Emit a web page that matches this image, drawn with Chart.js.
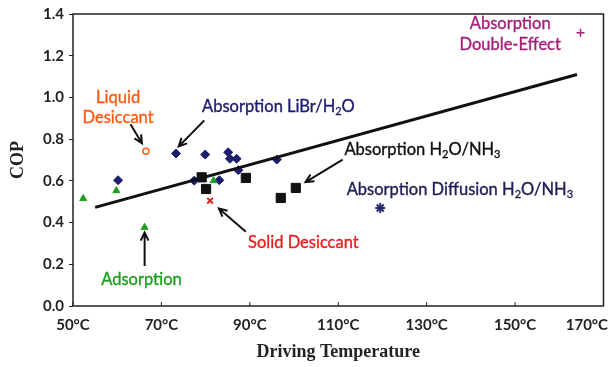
<!DOCTYPE html>
<html>
<head>
<meta charset="utf-8">
<script src="https://cdn.jsdelivr.net/npm/chart.js@4/dist/chart.umd.min.js"></script>
<style>
  html, body { margin: 0; padding: 0; background: #fff; }
  #wrap { width: 611px; height: 367px; }
</style>
</head>
<body>
<div id="wrap"><canvas id="copChart" width="611" height="367"></canvas></div>
<script>
// data (driving temperature in degC, COP)
const xTicks = [50, 70, 90, 110, 130, 150, 170];
const yTicks = [0, 0.2, 0.4, 0.6, 0.8, 1.0, 1.2, 1.4];

const adsorptionT = [52.3, 59.8, 66.2, 81.8];
const adsorptionCOP = [0.515, 0.553, 0.377, 0.601];

const liquidT = [66.5];
const liquidCOP = [0.742];

const librT = [60.2, 73.3, 79.9, 85.1, 85.5, 87.0, 87.4, 77.4, 83.1, 96.1];
const librCOP = [0.603, 0.731, 0.726, 0.737, 0.706, 0.706, 0.651, 0.601, 0.603, 0.702];

const nh3T = [79.1, 80.1, 89.1, 100.4, 97.0];
const nh3COP = [0.617, 0.561, 0.614, 0.566, 0.518];

const solidT = [81.0];
const solidCOP = [0.505];

const diffusionT = [119.5];
const diffusionCOP = [0.47];

const doubleT = [164.8];
const doubleCOP = [1.31];

const trendT = [55, 164];
const trendCOP = [0.473, 1.11];

function pts(xs, ys) {
  return xs.map((x, i) => ({ x: x, y: ys[i] }));
}

// text labels, positions given in data units; "_" marks a subscript char
const labels = [
  { text: "Liquid", t: 60.2, c: 1.00, color: "#ff5a14", align: "center" },
  { text: "Desiccant", t: 60.2, c: 0.905, color: "#ff5a14", align: "center" },
  { text: "Absorption LiBr/H_2O", t: 79.2, c: 0.957, color: "#1c1c70", align: "left" },
  { text: "Absorption H_2O/NH_3", t: 111.4, c: 0.75, color: "#111", align: "left" },
  { text: "Absorption Diffusion H_2O/NH_3", t: 111.9, c: 0.558, color: "#20205a", align: "left" },
  { text: "Absorption", t: 148.9, c: 1.352, color: "#a4207a", align: "center" },
  { text: "Double-Effect", t: 148.9, c: 1.251, color: "#a4207a", align: "center" },
  { text: "Solid Desiccant", t: 89.6, c: 0.303, color: "#e82020", align: "left" },
  { text: "Adsorption", t: 65.5, c: 0.125, color: "#1ea01e", align: "center" }
];

const arrows = [
  { from: [63.0, 0.871], to: [65.6, 0.78] },
  { from: [79.7, 0.89], to: [73.9, 0.765] },
  { from: [111.0, 0.702], to: [102.6, 0.594] },
  { from: [89.1, 0.356], to: [83.0, 0.468] },
  { from: [66.2, 0.192], to: [66.2, 0.352] }
];

const LABEL_FONT = "Lato, 'Open Sans', sans-serif";

function drawRich(ctx, str, x, y, align, color) {
  // split into normal/subscript parts
  const parts = [];
  for (let i = 0; i < str.length; i++) {
    if (str[i] === "_") { parts.push({ s: str[i + 1], sub: true }); i++; }
    else if (parts.length && !parts[parts.length - 1].sub) parts[parts.length - 1].s += str[i];
    else parts.push({ s: str[i], sub: false });
  }
  const big = "16.5px " + LABEL_FONT, small = "11px " + LABEL_FONT;
  let w = 0;
  parts.forEach(p => { ctx.font = p.sub ? small : big; p.w = ctx.measureText(p.s).width; w += p.w; });
  let cx = align === "center" ? x - w / 2 : x;
  ctx.fillStyle = color;
  ctx.strokeStyle = color;
  ctx.lineWidth = 0.35;
  ctx.textAlign = "left";
  ctx.textBaseline = "middle";
  parts.forEach(p => {
    ctx.font = p.sub ? small : big;
    const yy = p.sub ? y + 5 : y;
    ctx.fillText(p.s, cx, yy);
    ctx.strokeText(p.s, cx, yy);
    cx += p.w;
  });
}

const decorations = {
  id: "decorations",
  afterDraw(chart) {
    const ctx = chart.ctx;
    const xs = chart.scales.x, ys = chart.scales.y;
    const a = chart.chartArea;
    ctx.save();

    // frame
    ctx.strokeStyle = "#222";
    ctx.lineWidth = 1.5;
    ctx.strokeRect(a.left, a.top, a.right - a.left, a.bottom - a.top);

    // x ticks (inside) and labels
    ctx.lineWidth = 1;
    ctx.font = "bold 15px Lato, sans-serif";
    ctx.fillStyle = "#222";
    ctx.textBaseline = "middle";
    xTicks.forEach(t => {
      const px = xs.getPixelForValue(t);
      ctx.beginPath();
      ctx.moveTo(px, a.bottom);
      ctx.lineTo(px, a.bottom - 4);
      ctx.stroke();
      const txt = t + "\u00b0C";
      const w = ctx.measureText(txt).width;
      let lx = px - w / 2;
      if (lx + w > chart.width - 3) lx = chart.width - 3 - w;
      ctx.textAlign = "left";
      ctx.fillText(txt, lx, a.bottom + 19);
    });

    // arrows
    ctx.strokeStyle = "#111";
    ctx.lineWidth = 2;
    arrows.forEach(ar => {
      const x1 = xs.getPixelForValue(ar.from[0]), y1 = ys.getPixelForValue(ar.from[1]);
      const x2 = xs.getPixelForValue(ar.to[0]), y2 = ys.getPixelForValue(ar.to[1]);
      const ang = Math.atan2(y2 - y1, x2 - x1);
      ctx.beginPath();
      ctx.moveTo(x1, y1);
      ctx.lineTo(x2, y2);
      ctx.moveTo(x2 - 9 * Math.cos(ang - 0.45), y2 - 9 * Math.sin(ang - 0.45));
      ctx.lineTo(x2, y2);
      ctx.lineTo(x2 - 9 * Math.cos(ang + 0.45), y2 - 9 * Math.sin(ang + 0.45));
      ctx.stroke();
    });

    // text labels
    labels.forEach(l => {
      drawRich(ctx, l.text, xs.getPixelForValue(l.t), ys.getPixelForValue(l.c), l.align, l.color);
    });
    ctx.restore();
  }
};

new Chart(document.getElementById("copChart"), {
  type: "scatter",
  data: {
    datasets: [
      {
        label: "Trend",
        data: pts(trendT, trendCOP),
        showLine: true,
        borderColor: "#111",
        borderWidth: 3,
        pointRadius: 0
      },
      {
        label: "Adsorption",
        data: pts(adsorptionT, adsorptionCOP),
        pointStyle: "triangle",
        pointRadius: 4,
        backgroundColor: "#1ea01e",
        borderColor: "#1ea01e"
      },
      {
        label: "Liquid Desiccant",
        data: pts(liquidT, liquidCOP),
        pointStyle: "circle",
        pointRadius: 3,
        borderWidth: 1.5,
        backgroundColor: "#fff",
        borderColor: "#ff5a14"
      },
      {
        label: "Absorption LiBr/H2O",
        data: pts(librT, librCOP),
        pointStyle: "rectRot",
        pointRadius: 4.5,
        backgroundColor: "#1c1c70",
        borderColor: "#1c1c70"
      },
      {
        label: "Absorption H2O/NH3",
        data: pts(nh3T, nh3COP),
        pointStyle: "rect",
        pointRadius: 6.5,
        backgroundColor: "#111",
        borderColor: "#111"
      },
      {
        label: "Solid Desiccant",
        data: pts(solidT, solidCOP),
        pointStyle: "crossRot",
        pointRadius: 4,
        borderWidth: 2,
        borderColor: "#e82020"
      },
      {
        label: "Absorption Diffusion H2O/NH3",
        data: pts(diffusionT, diffusionCOP),
        pointStyle: "star",
        pointRadius: 5,
        borderWidth: 2,
        borderColor: "#2a2a6a"
      },
      {
        label: "Absorption Double-Effect",
        data: pts(doubleT, doubleCOP),
        pointStyle: "cross",
        pointRadius: 4,
        borderWidth: 1.5,
        borderColor: "#a4207a"
      }
    ]
  },
  options: {
    responsive: false,
    animation: false,
    layout: { padding: { top: 13, right: 5, left: 0, bottom: 0 } },
    plugins: { legend: { display: false }, tooltip: { enabled: false } },
    scales: {
      x: {
        type: "linear",
        min: 50,
        max: 170,
        afterBuildTicks: s => { s.ticks = xTicks.map(v => ({ value: v })); },
        afterFit: s => { s.height = 61; },
        ticks: { display: false },
        grid: { display: false, drawTicks: false },
        border: { display: false },
        title: {
          display: true,
          text: "Driving Temperature",
          font: { family: "'Liberation Serif', serif", size: 18, weight: "bold" },
          color: "#222",
          padding: { top: 0, bottom: 4 }
        }
      },
      y: {
        min: 0,
        max: 1.4,
        afterBuildTicks: s => { s.ticks = yTicks.map(v => ({ value: v })); },
        afterFit: s => { s.width = 73; },
        ticks: {
          callback: v => v.toFixed(1),
          font: { family: "Lato, sans-serif", size: 15, weight: "bold" },
          color: "#222",
          padding: 5
        },
        grid: { drawOnChartArea: false, tickLength: 4, color: "#222" },
        border: { display: false },
        title: {
          display: true,
          text: "COP",
          font: { family: "'Liberation Serif', serif", size: 18, weight: "bold" },
          color: "#222",
          padding: { top: 8, bottom: 6 }
        }
      }
    }
  },
  plugins: [decorations]
});
</script>
</body>
</html>
